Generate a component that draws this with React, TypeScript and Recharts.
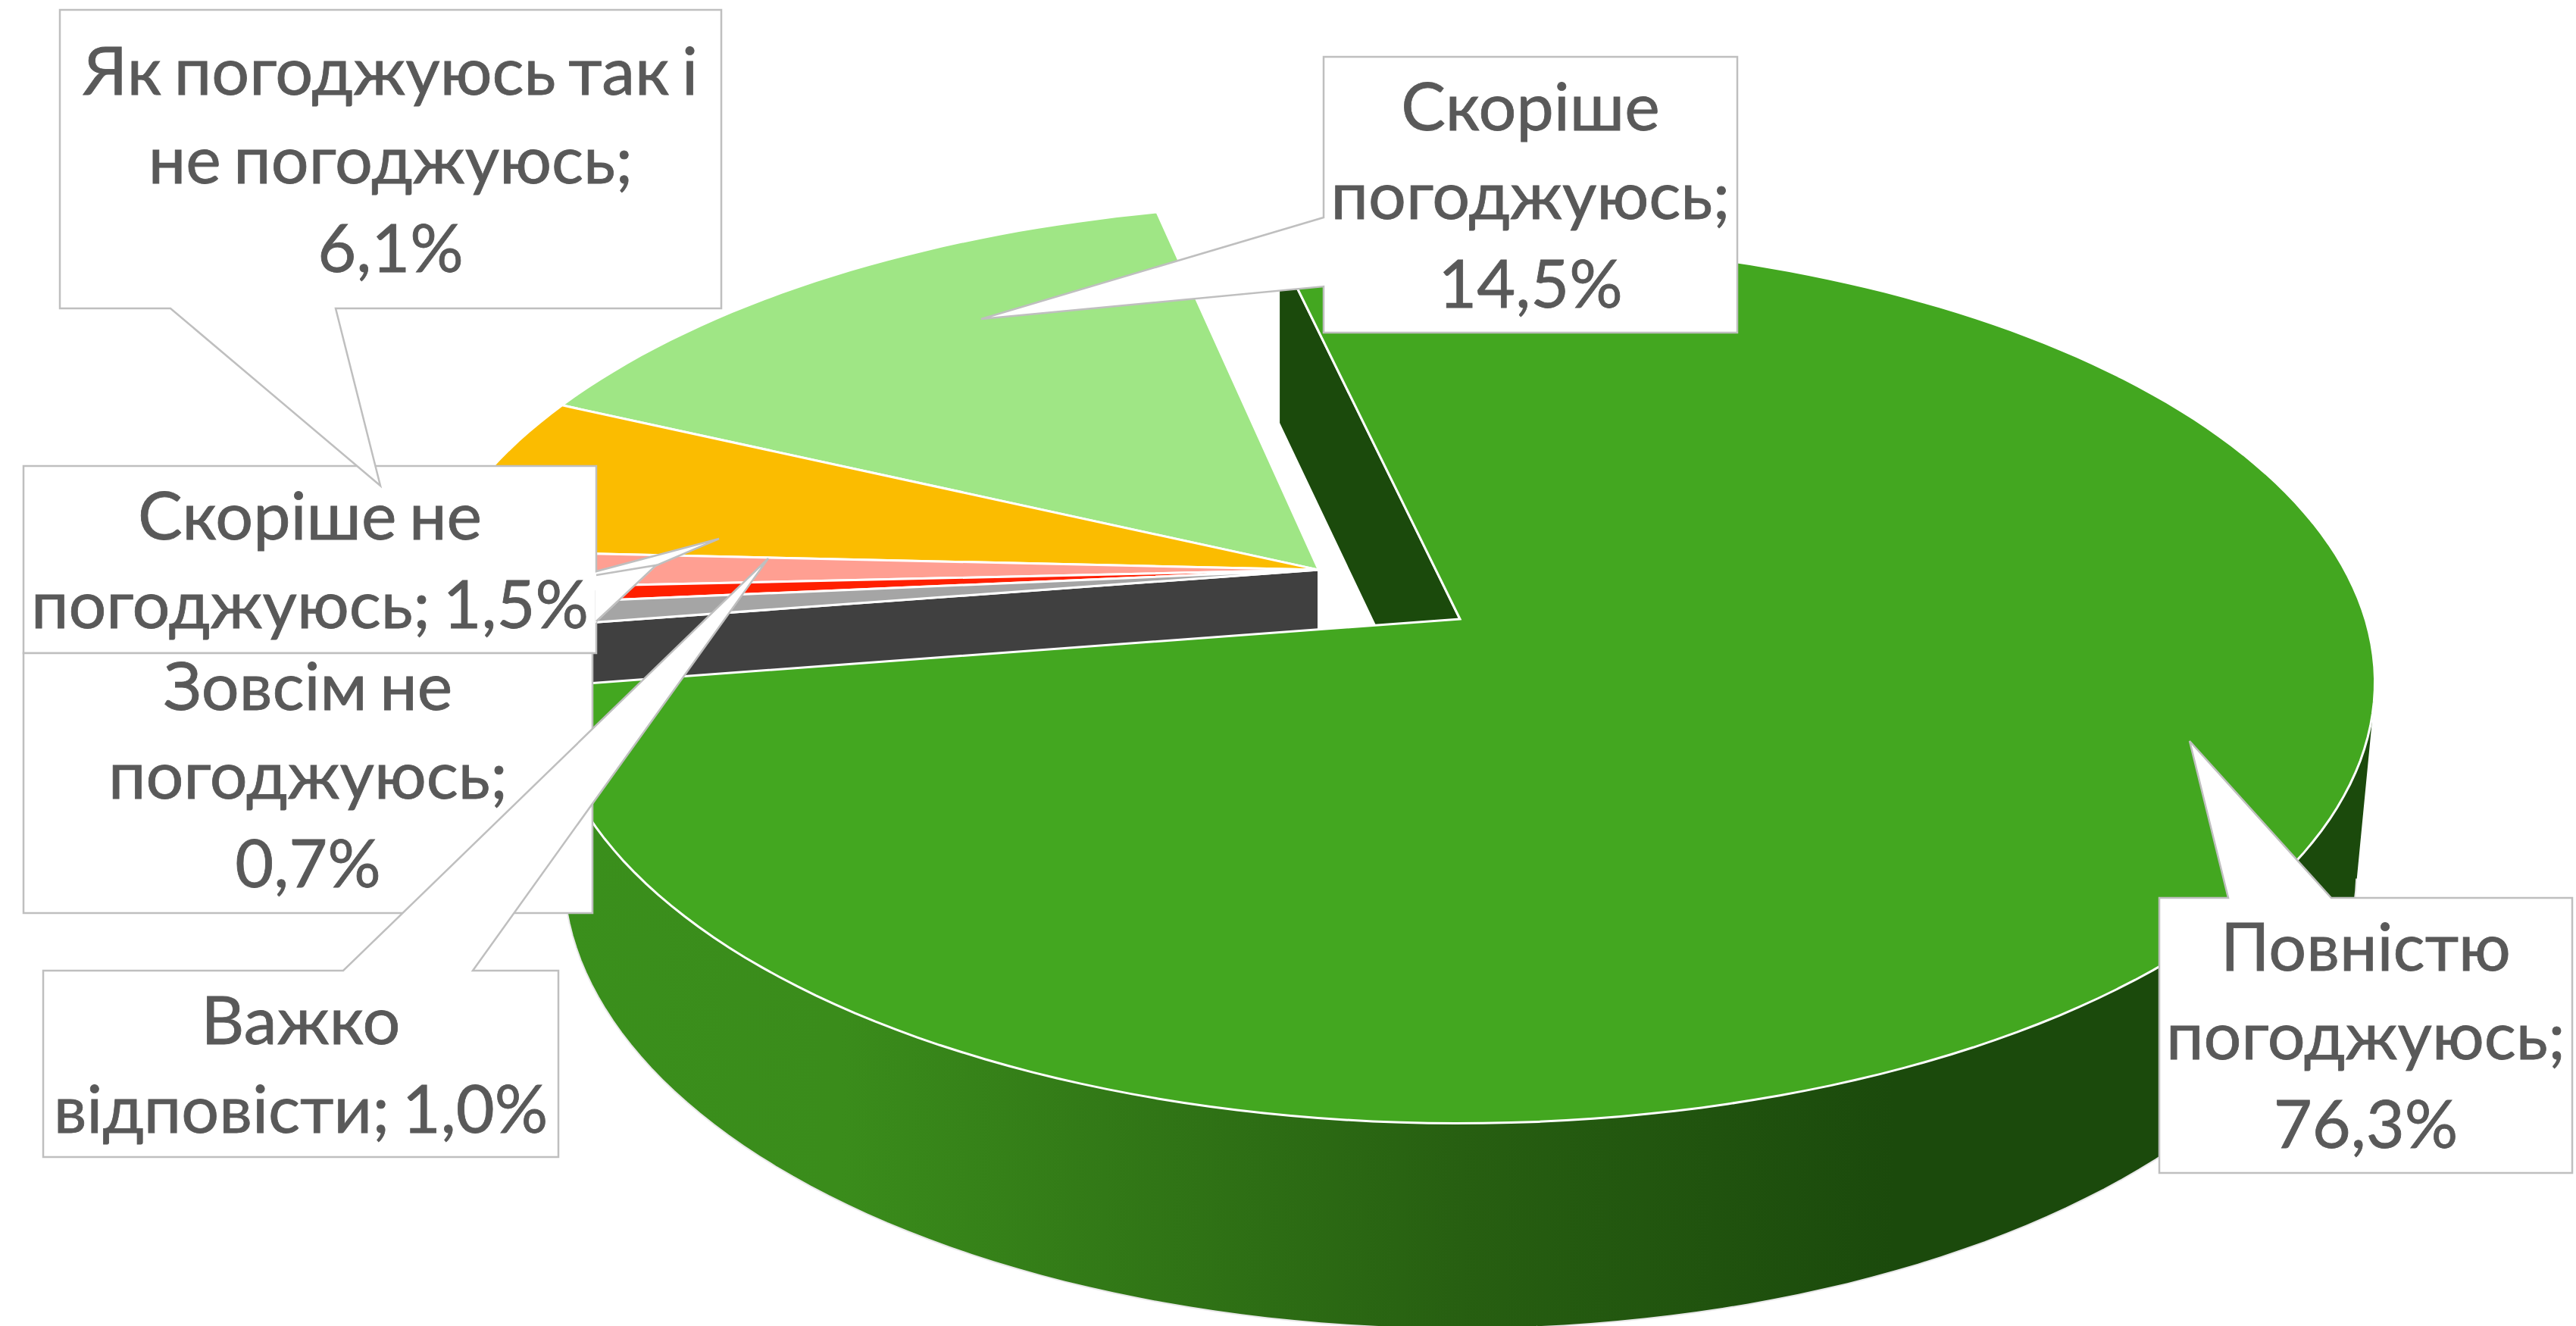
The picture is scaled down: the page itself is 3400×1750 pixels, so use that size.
import { Pie, PieChart } from 'recharts';

const categories = [
  'Скоріше погоджуюсь',
  'Як погоджуюсь так і не погоджуюсь',
  'Скоріше не погоджуюсь',
  'Зовсім не погоджуюсь',
  'Важко відповісти',
  'Повністю погоджуюсь',
];
const values = [14.5, 6.1, 1.5, 0.7, 1.0, 76.3];
const valueLabels = ['14,5%', '6,1%', '1,5%', '0,7%', '1,0%', '76,3%'];
const topColors = ['#9fe685', '#fbbc00', '#ff9f92', '#ff2000', '#a5a5a5', '#43a720'];
const exploded = [true, true, true, true, true, false];

const chartData = categories.map((name, i) => ({
  name,
  value: values[i],
  fill: topColors[i],
  exploded: exploded[i],
}));

// perspective of the tilted pie, unit disc -> screen
const TILT = 0.477;
const PERSPECTIVE = 0.1435;
const DEPTH = 245;
const BOTTOM_SHRINK = 0.98;
const EXPLODE_X = -0.1587;
const EXPLODE_Y = 0.1158;
const DARK_GREEN = '#1b4a0c';
const DARK_GREY = '#404040';

type Pt = { x: number; y: number };

const toLine = (pts: Pt[]) => `M${pts.map((p) => `${p.x.toFixed(1)},${p.y.toFixed(1)}`).join('L')}`;
const toPath = (pts: Pt[]) => `${toLine(pts)}Z`;

const quadPath = (q: Pt[]) => {
  // all quads wound the same way so they never cancel out when filled together
  let area = 0;
  q.forEach((p, i) => {
    const n = q[(i + 1) % q.length];
    area += p.x * n.y - n.x * p.y;
  });
  return toPath(area < 0 ? [...q].reverse() : q);
};

const SliceShape = (props: any) => {
  const { cx, cy, outerRadius, startAngle, endAngle, payload, fill } = props;
  const isExploded = payload?.exploded ?? props.exploded;
  const ox = isExploded ? EXPLODE_X : 0;
  const oy = isExploded ? EXPLODE_Y : 0;

  const project = (wx: number, wy: number, low = false, shrink = 1): Pt => {
    const w = 1 + PERSPECTIVE * wy;
    const drop = low ? DEPTH * (1 - 0.0876 * wy + 0.0185 * wy * wy) : 0;
    return {
      x: cx + ((outerRadius * wx) / w) * shrink,
      y: cy - (outerRadius * TILT * wy) / w + drop,
    };
  };
  const rimAt = (deg: number, low = false, shrink = 1) => {
    const a = (deg * Math.PI) / 180;
    return project(ox + Math.cos(a), oy + Math.sin(a), low, shrink);
  };
  const steps = Math.max(2, Math.ceil(Math.abs(endAngle - startAngle) / 1.5));
  const angles = Array.from({ length: steps + 1 }, (_, i) => startAngle + ((endAngle - startAngle) * i) / steps);
  const rim = angles.map((a) => rimAt(a));
  const rimLow = angles.map((a) => rimAt(a, true, BOTTOM_SHRINK));
  const pivot = project(ox, oy);
  const pivotLow = project(ox, oy, true);

  const wallPath = rim
    .slice(1)
    .map((p, i) => quadPath([rim[i], p, rimLow[i + 1], rimLow[i]]))
    .join('');
  const frontLow = rimLow.filter((_, i) => Math.sin((angles[i] * Math.PI) / 180) < -0.15);

  return (
    <g>
      <path d={wallPath} fill={isExploded ? DARK_GREY : 'url(#greenWall)'} />
      {!isExploded && <path d={toLine(frontLow)} fill="none" stroke="#e8e8e8" strokeWidth={2} />}
      {!isExploded && (
        <path
          d={toPath([pivot, rimAt(endAngle), rimAt(endAngle, true), pivotLow])}
          fill={DARK_GREEN}
          stroke="#fff"
          strokeWidth={3}
        />
      )}
      {payload?.name === categories[4] && (
        <path
          d={toPath([pivot, rimAt(endAngle), rimAt(endAngle, true), pivotLow])}
          fill={DARK_GREY}
          stroke="#fff"
          strokeWidth={3}
        />
      )}
      <path d={toPath([pivot, ...rim])} fill={fill} stroke="#fff" strokeWidth={3} />
    </g>
  );
};

// callout boxes, drawn lowest first
const callouts = [
  {
    idx: 0,
    box: [1747, 75, 2293, 439],
    base: [[1747, 287], [1747, 378]],
    tip: [1295, 421],
    lines: ['Скоріше', 'погоджуюсь;'],
    baseline: 172,
  },
  {
    idx: 2,
    box: [31, 615, 787, 862],
    base: [[787, 754], [787, 780]],
    tip: [949, 711],
    lines: ['Скоріше не', 'погоджуюсь;'],
    baseline: 712,
  },
  {
    idx: 3,
    box: [31, 862, 782, 1205],
    lines: ['Зовсім не', 'погоджуюсь;'],
    baseline: 937,
    // its pointer comes out from under the box above
    patch: { tip: [866, 746], a: [787, 759], b: [787, 820] },
  },
  {
    idx: 4,
    box: [57, 1281, 737, 1527],
    base: [[453, 1281], [624, 1281]],
    tip: [1014, 737],
    lines: ['Важко', 'відповісти;'],
    baseline: 1378,
  },
  {
    idx: 1,
    box: [79, 13, 952, 407],
    base: [[225, 407], [443, 407]],
    tip: [502, 641],
    lines: ['Як погоджуюсь так і', 'не погоджуюсь;'],
    baseline: 125,
  },
  {
    idx: 5,
    box: [2850, 1185, 3395, 1548],
    base: [[2941, 1185], [3077, 1185]],
    tip: [2890, 978],
    lines: ['Повністю', 'погоджуюсь;'],
    baseline: 1281,
  },
];
const inlineValue = [2, 4];
const LINE_STEP = 117;
const BORDER = '#bfbfbf';

const calloutPoints = (c: any) => {
  const [x0, y0, x1, y1] = c.box;
  const b = c.base;
  if (!b) return [[x0, y0], [x1, y0], [x1, y1], [x0, y1]];
  if (b[0][0] === x0) return [[x0, y0], [x1, y0], [x1, y1], [x0, y1], b[1], c.tip, b[0]];
  if (b[0][0] === x1) return [[x0, y0], [x1, y0], b[0], c.tip, b[1], [x1, y1], [x0, y1]];
  if (b[0][1] === y0) return [[x0, y0], b[0], c.tip, b[1], [x1, y0], [x1, y1], [x0, y1]];
  return [[x0, y0], [x1, y0], [x1, y1], b[1], c.tip, b[0], [x0, y1]];
};

const Callouts = () => (
  <g>
    {callouts.map((c: any) => (
      <g key={c.idx}>
        <polygon
          points={calloutPoints(c).map((p) => p.join(',')).join(' ')}
          fill="#fff"
          stroke={BORDER}
          strokeWidth={2.5}
        />
        {c.patch && (
          <>
            <polygon points={[c.patch.tip, c.patch.a, c.patch.b].map((p) => p.join(',')).join(' ')} fill="#fff" stroke="#fff" strokeWidth={2} />
            <polyline points={[c.patch.a, c.patch.tip, c.patch.b].map((p) => p.join(',')).join(' ')} fill="none" stroke={BORDER} strokeWidth={2.5} />
          </>
        )}
      </g>
    ))}
    {callouts.map((c: any) => {
      const [x0, , x1] = c.box;
      const lines = inlineValue.includes(c.idx)
        ? [c.lines[0], `${c.lines[1]} ${valueLabels[c.idx]}`]
        : [...c.lines, valueLabels[c.idx]];
      return (
        <text
          key={c.idx}
          textAnchor="middle"
          fontFamily="Lato, 'Open Sans', sans-serif"
          fontSize={88}
          wordSpacing={-6}
          fill="#595959"
          stroke="#595959"
          strokeWidth={0.8}
        >
          {lines.map((t, i) => (
            <tspan key={i} x={(x0 + x1) / 2} y={c.baseline + i * LINE_STEP}>
              {t}
            </tspan>
          ))}
        </text>
      );
    })}
  </g>
);

// all callouts go in one pass, on the last label, so the stacking stays as in the source
const renderLabels = (p: any) => (p.index === categories.length - 1 ? <Callouts /> : <g />);

export default function App() {
  return (
    <div style={{ position: 'absolute', left: 0, top: 0, background: '#fff' }}>
      <PieChart width={3400} height={1750}>
        <defs>
          <linearGradient id="greenWall" gradientUnits="userSpaceOnUse" x1={720} y1={0} x2={2500} y2={0}>
            <stop offset="0" stopColor="#3a8f1c" />
            <stop offset="0.22" stopColor="#3a8c1b" />
            <stop offset="0.68" stopColor="#275f11" />
            <stop offset="1" stopColor={DARK_GREEN} />
          </linearGradient>
        </defs>
        <Pie
          data={chartData}
          dataKey="value"
          nameKey="name"
          cx={1922}
          cy={812}
          outerRadius={1195}
          startAngle={103.2}
          endAngle={463.2}
          stroke="none"
          isAnimationActive={false}
          shape={SliceShape}
          label={renderLabels}
          labelLine={false}
        />
      </PieChart>
    </div>
  );
}
